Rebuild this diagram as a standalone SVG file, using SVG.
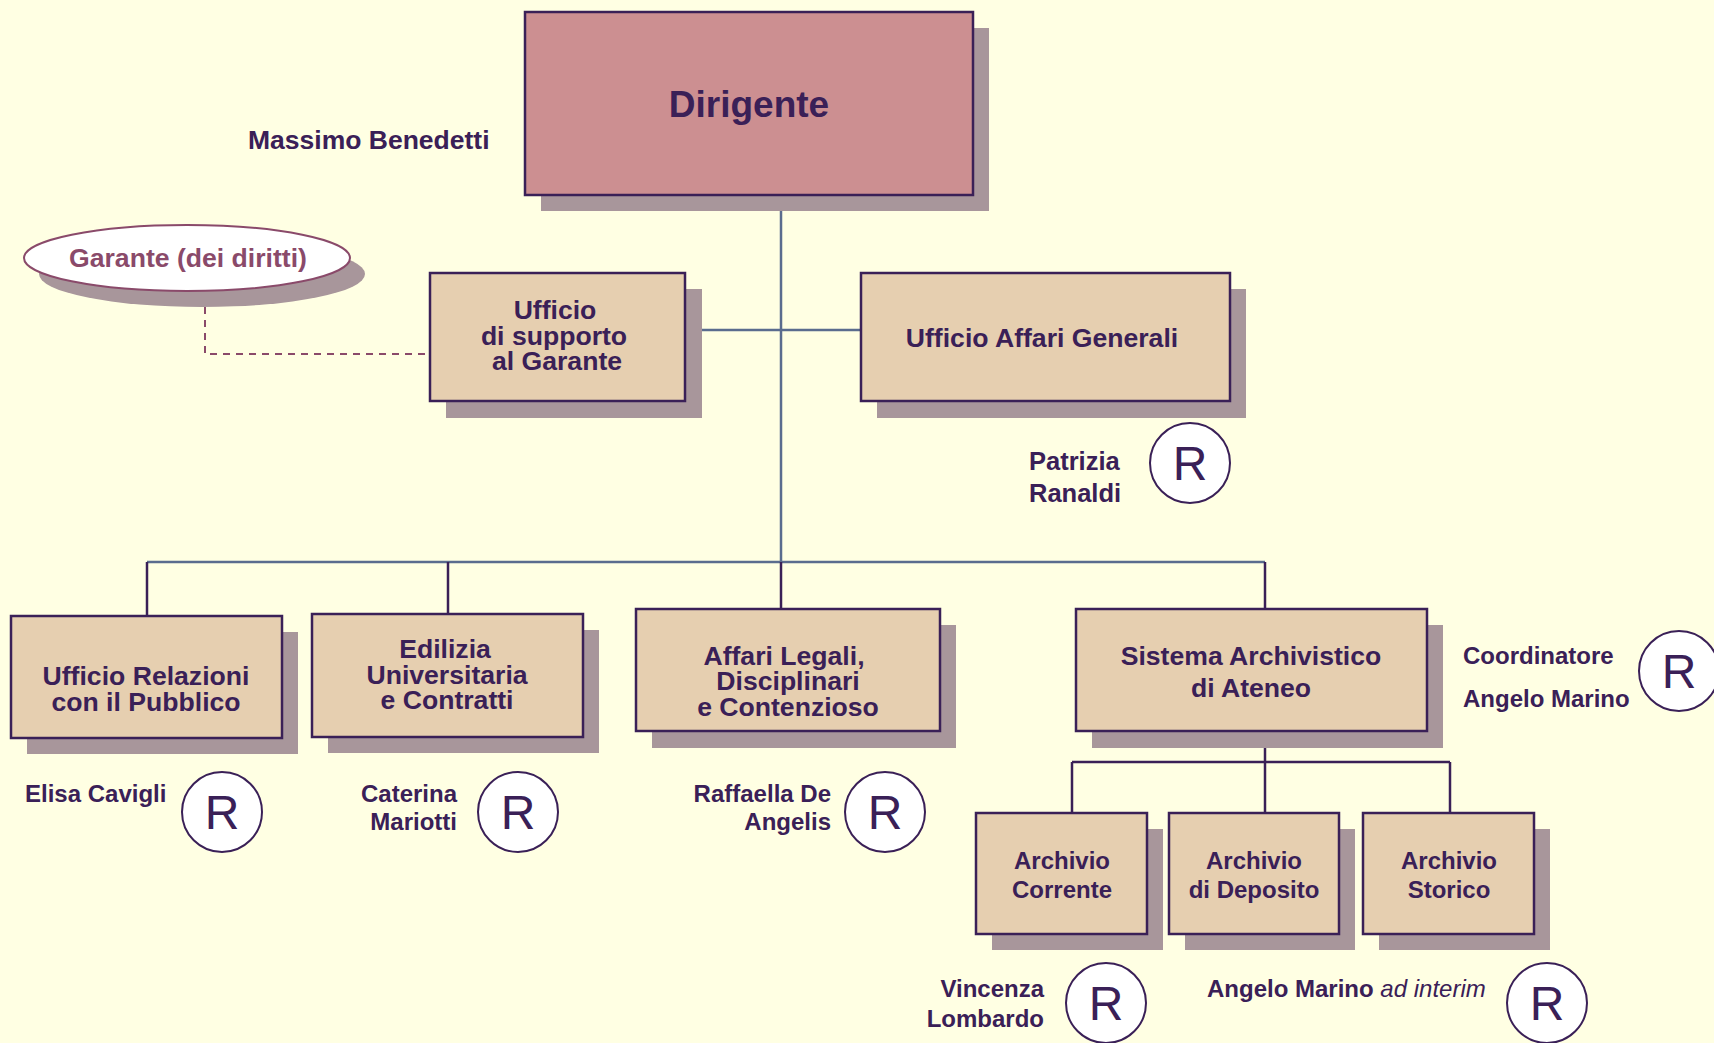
<svg xmlns="http://www.w3.org/2000/svg" width="1714" height="1043" viewBox="0 0 1714 1043">
<style>
.bg{fill:#FFFFE3}
.box{fill:#E6CFB0;stroke:#3A2057;stroke-width:2.5}
.top{fill:#CC8F91;stroke:#3A2057;stroke-width:2.5}
.sh{fill:#A8969B}
.t{font-family:"Liberation Sans",Arial,sans-serif;font-weight:bold;font-size:26.6px;fill:#3A2057;text-anchor:middle}
.a{font-size:24px}
.n{font-family:"Liberation Sans",Arial,sans-serif;font-weight:bold;font-size:24px;fill:#3A2057}
.r{fill:#FFFFFF;stroke:#3A2057;stroke-width:2}
.rt{font-family:"Liberation Sans",Arial,sans-serif;font-size:48px;fill:#3A2057;text-anchor:middle}
.lb{stroke:#5A6C8E;stroke-width:2.5;fill:none}
.lp{stroke:#3A2057;stroke-width:2.5;fill:none}
.ld{stroke:#8A4A6A;stroke-width:2;stroke-dasharray:7,6;fill:none}
</style>
<rect class="bg" x="0" y="0" width="1714" height="1043"/>
<g id="connectors">
<line class="lb" x1="781" y1="211" x2="781" y2="562"/>
<line class="lb" x1="702" y1="330" x2="861" y2="330"/>
<line class="lb" x1="147" y1="562" x2="1265" y2="562"/>
<line class="lp" x1="147" y1="562" x2="147" y2="616"/>
<line class="lp" x1="448" y1="562" x2="448" y2="614"/>
<line class="lp" x1="781" y1="562" x2="781" y2="609"/>
<line class="lp" x1="1265" y1="562" x2="1265" y2="609"/>
<line class="lp" x1="1265" y1="748" x2="1265" y2="813"/>
<line class="lp" x1="1072" y1="762" x2="1450" y2="762"/>
<line class="lp" x1="1072" y1="762" x2="1072" y2="813"/>
<line class="lp" x1="1450" y1="762" x2="1450" y2="813"/>
<polyline class="ld" points="205,307 205,354 425,354"/>
</g>
<g id="dirigente">
<rect class="sh" x="541" y="28" width="448" height="183"/>
<rect class="top" x="525" y="12" width="448" height="183"/>
<text class="t" x="749" y="117" style="font-size:37px">Dirigente</text>
<text class="n" x="248" y="149" style="font-size:26.5px">Massimo Benedetti</text>
</g>
<g id="garante">
<ellipse class="sh" cx="202" cy="274" rx="163" ry="33"/>
<ellipse cx="187" cy="258" rx="163" ry="33" fill="#FFFFFF" stroke="#8A4A6A" stroke-width="2"/>
<text class="t" x="188" y="267" style="fill:#8A4A6A">Garante (dei diritti)</text>
</g>
<g id="supporto">
<rect class="sh" x="446" y="289" width="256" height="129"/>
<rect class="box" x="430" y="273" width="255" height="128"/>
<text class="t" x="555" y="319">Ufficio</text>
<text class="t" x="554" y="345">di supporto</text>
<text class="t" x="557" y="370">al Garante</text>
</g>
<g id="affari-generali">
<rect class="sh" x="877" y="289" width="369" height="129"/>
<rect class="box" x="861" y="273" width="369" height="128"/>
<text class="t" x="1042" y="347">Ufficio Affari Generali</text>
<text class="n" x="1029" y="470" style="font-size:25.5px">Patrizia</text>
<text class="n" x="1029" y="502" style="font-size:25.5px">Ranaldi</text>
<ellipse class="r" cx="1190" cy="463" rx="40" ry="40"/>
<text class="rt" x="1190" y="480">R</text>
</g>
<g id="urp">
<rect class="sh" x="27" y="632" width="271" height="122"/>
<rect class="box" x="11" y="616" width="271" height="122"/>
<text class="t" x="146" y="685">Ufficio Relazioni</text>
<text class="t" x="146" y="711">con il Pubblico</text>
<text class="n" x="25" y="802">Elisa Cavigli</text>
<ellipse class="r" cx="222" cy="812" rx="40" ry="40"/>
<text class="rt" x="222" y="829">R</text>
</g>
<g id="edilizia">
<rect class="sh" x="328" y="630" width="271" height="123"/>
<rect class="box" x="312" y="614" width="271" height="123"/>
<text class="t" x="445" y="658">Edilizia</text>
<text class="t" x="447" y="684">Universitaria</text>
<text class="t" x="447" y="709">e Contratti</text>
<text class="n" x="457" y="802" text-anchor="end">Caterina</text>
<text class="n" x="457" y="830" text-anchor="end">Mariotti</text>
<ellipse class="r" cx="518" cy="812" rx="40" ry="40"/>
<text class="rt" x="518" y="829">R</text>
</g>
<g id="affari-legali">
<rect class="sh" x="652" y="625" width="304" height="123"/>
<rect class="box" x="636" y="609" width="304" height="122"/>
<text class="t" x="784" y="665">Affari Legali,</text>
<text class="t" x="788" y="690">Disciplinari</text>
<text class="t" x="788" y="716">e Contenzioso</text>
<text class="n" x="831" y="802" text-anchor="end">Raffaella De</text>
<text class="n" x="831" y="830" text-anchor="end">Angelis</text>
<ellipse class="r" cx="885" cy="812" rx="40" ry="40"/>
<text class="rt" x="885" y="829">R</text>
</g>
<g id="sistema-archivistico">
<rect class="sh" x="1092" y="625" width="351" height="123"/>
<rect class="box" x="1076" y="609" width="351" height="122"/>
<text class="t" x="1251" y="665">Sistema Archivistico</text>
<text class="t" x="1251" y="697">di Ateneo</text>
<text class="n" x="1463" y="664">Coordinatore</text>
<text class="n" x="1463" y="707">Angelo Marino</text>
<ellipse class="r" cx="1679" cy="671" rx="40" ry="40"/>
<text class="rt" x="1679" y="688">R</text>
</g>
<g id="archivio-corrente">
<rect class="sh" x="992" y="829" width="171" height="121"/>
<rect class="box" x="976" y="813" width="171" height="121"/>
<text class="t a" x="1062" y="869">Archivio</text>
<text class="t a" x="1062" y="898">Corrente</text>
<text class="n" x="1044" y="997" text-anchor="end">Vincenza</text>
<text class="n" x="1044" y="1027" text-anchor="end">Lombardo</text>
<ellipse class="r" cx="1106" cy="1003" rx="40" ry="40"/>
<text class="rt" x="1106" y="1020">R</text>
</g>
<g id="archivio-deposito">
<rect class="sh" x="1185" y="829" width="170" height="121"/>
<rect class="box" x="1169" y="813" width="170" height="121"/>
<text class="t a" x="1254" y="869">Archivio</text>
<text class="t a" x="1254" y="898">di Deposito</text>
</g>
<g id="archivio-storico">
<rect class="sh" x="1379" y="829" width="171" height="121"/>
<rect class="box" x="1363" y="813" width="171" height="121"/>
<text class="t a" x="1449" y="869">Archivio</text>
<text class="t a" x="1449" y="898">Storico</text>
<text class="n" x="1207" y="997">Angelo Marino <tspan font-weight="normal" font-style="italic">ad interim</tspan></text>
<ellipse class="r" cx="1547" cy="1003" rx="40" ry="40"/>
<text class="rt" x="1547" y="1020">R</text>
</g>
</svg>
